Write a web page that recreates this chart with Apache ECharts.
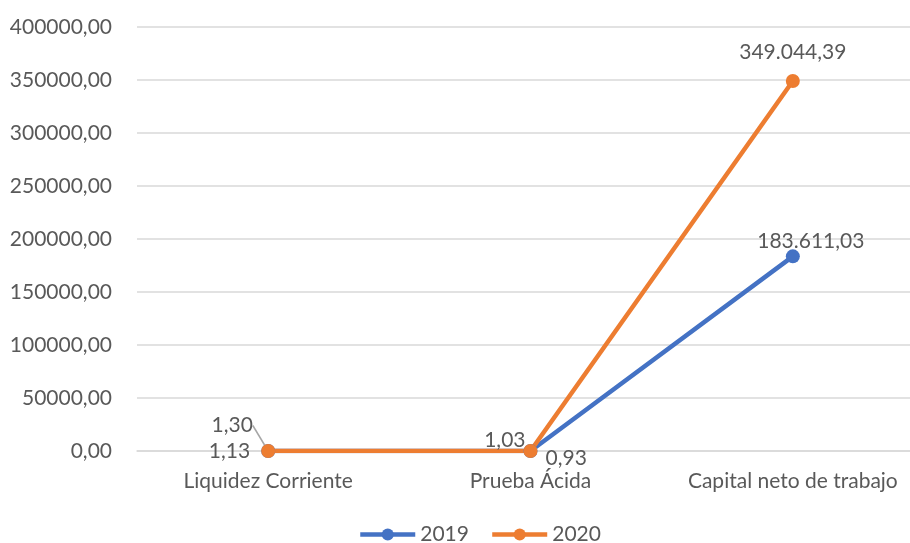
<!DOCTYPE html>
<html>
<head>
<meta charset="utf-8">
<script src="https://cdn.jsdelivr.net/npm/echarts@6/dist/echarts.min.js"></script>
<style>
html, body { margin: 0; padding: 0; background: #fff; }
#main { width: 910px; height: 543px; }
</style>
</head>
<body>
<div id="main"></div>
<script>
var categories = ['Liquidez Corriente', 'Prueba Ácida', 'Capital neto de trabajo'];
var seriesNames = ['2019', '2020'];
var values2019 = [1.13, 0.93, 183611.03];
var values2020 = [1.30, 1.03, 349044.39];
var yTicks = { min: 0, max: 400000, interval: 50000 };

var FONT = 'Lato, "Open Sans", sans-serif';
var TXT = '#595959';
var FS = 21;

// 349044.39 -> "349.044,39"
function fmtEs(v) {
    var parts = v.toFixed(2).split('.');
    parts[0] = parts[0].replace(/\B(?=(\d{3})+(?!\d))/g, '.');
    return parts[0] + ',' + parts[1];
}

// per-point label placement, like the original chart
var pos2019 = [
    { position: 'left', distance: 11 },
    { position: 'right', distance: 4, offset: [4, 7] },
    { position: 'top', distance: 0, offset: [18, 2] }
];
var pos2020 = [
    { position: 'top' },
    { position: 'left', distance: 0 },
    { position: 'top', distance: 11 }
];
// shifts for the 2020 labels (applied through labelLayout)
var shift2020 = [[-36, -3], [2, -11], [0, 0]];

function buildData(vals, pos) {
    return vals.map(function (v, i) {
        return { value: v, label: pos[i] };
    });
}

var myChart = echarts.init(document.getElementById('main'));

var data2020 = buildData(values2020, pos2020);
data2020[0].labelLine = { show: true, lineStyle: { color: '#a6a6a6', width: 1.5 } };

var option = {
    animation: false,
    grid: { left: 137, top: 27, width: 787, height: 424, outerBoundsMode: 'none' },
    legend: {
        top: 519,
        left: 353,
        itemWidth: 55,
        itemHeight: 15,
        itemGap: 21,
        lineStyle: { width: 4.5 },
        textStyle: { color: TXT, fontSize: FS, fontFamily: FONT },
        data: seriesNames
    },
    xAxis: {
        type: 'category',
        data: categories,
        boundaryGap: true,
        axisLine: { show: true, lineStyle: { color: '#d9d9d9', width: 1.5 } },
        axisTick: { show: false },
        axisLabel: { color: TXT, fontSize: FS, fontFamily: FONT, margin: 20, interval: 0 }
    },
    yAxis: {
        type: 'value',
        min: yTicks.min,
        max: yTicks.max,
        interval: yTicks.interval,
        axisLine: { show: false },
        axisTick: { show: false },
        axisLabel: {
            color: TXT, fontSize: FS, fontFamily: FONT, margin: 25,
            formatter: function (v) { return v.toFixed(2).replace('.', ','); }
        },
        splitLine: { lineStyle: { color: '#d9d9d9', width: 1.5 } }
    },
    series: [
        {
            name: seriesNames[0],
            type: 'line',
            data: buildData(values2019, pos2019),
            symbol: 'circle',
            symbolSize: 14,
            lineStyle: { width: 4.5, color: '#4472C4' },
            itemStyle: { color: '#4472C4' },
            label: {
                show: true, color: TXT, fontSize: FS, fontFamily: FONT,
                formatter: function (p) { return fmtEs(p.value); }
            }
        },
        {
            name: seriesNames[1],
            type: 'line',
            data: data2020,
            symbol: 'circle',
            symbolSize: 14,
            lineStyle: { width: 4.5, color: '#ED7D31' },
            itemStyle: { color: '#ED7D31' },
            label: {
                show: true, color: TXT, fontSize: FS, fontFamily: FONT,
                formatter: function (p) { return fmtEs(p.value); }
            },
            labelLine: { show: false, lineStyle: { color: '#a6a6a6', width: 1.5 } },
            labelLayout: function (params) {
                var s = shift2020[params.dataIndex];
                return { dx: s[0], dy: s[1] };
            }
        }
    ]
};

myChart.setOption(option);
</script>
</body>
</html>
